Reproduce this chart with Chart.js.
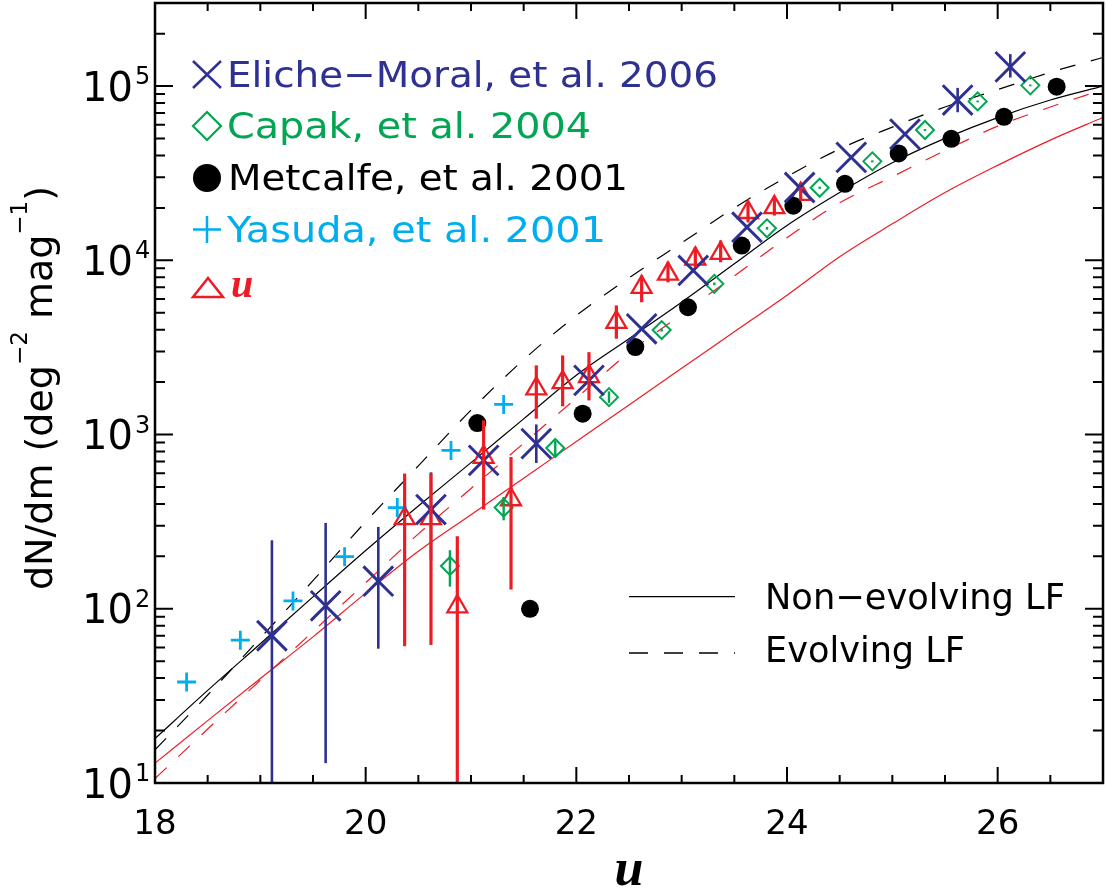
<!DOCTYPE html>
<html>
<head>
<meta charset="utf-8">
<script src="https://cdn.jsdelivr.net/npm/chart.js@4.4.1/dist/chart.umd.min.js"></script>
<style>
  html, body { margin: 0; padding: 0; background: #fff; }
  #caixa { width: 1106px; height: 892px; position: relative; }
</style>
</head>
<body>
<div id="caixa"><canvas id="grafico"></canvas></div>
<script>
// Eliche-Moral et al. 2006 (u, dN/dm e barras de erro)
const elicheU = [19.11, 19.62, 20.12, 20.62, 21.12, 21.62, 22.12, 22.62, 23.11, 23.62, 24.12, 24.61, 25.12, 25.62, 26.12];
const elicheN = [70, 104, 144, 371, 711, 887, 2046, 4046, 8750, 15500, 26200, 39000, 53000, 83200, 129000];
const elicheLo = [1, 13, 59, 190, null, 687, null, null, null, null, null, null, null, 70800, 112000];
const elicheHi = [247, 311, 295, 607, null, 1143, null, null, null, null, null, null, null, 97700, 152700];

// Capak et al. 2004
const capakU = [20.80, 21.31, 21.80, 22.31, 22.81, 23.31, 23.81, 24.31, 24.81, 25.31, 25.81, 26.31];
const capakN = [176, 381, 837, 1640, 3980, 7330, 15270, 26100, 37000, 56000, 81700, 101000];
const capakLo = [134, 322, 760, 1520, 3900, 7200, 15000, 25700, 36500, 55300, 80700, 99800];
const capakHi = [217, 438, 920, 1770, 4060, 7460, 15550, 26500, 37500, 56700, 82700, 102200];

// Metcalfe et al. 2001
const metcalfeU = [21.06, 21.56, 22.06, 22.56, 23.06, 23.57, 24.06, 24.55, 25.06, 25.56, 26.06, 26.56];
const metcalfeN = [1164, 100, 1318, 3180, 5380, 12160, 20600, 27500, 41100, 49800, 66700, 99300];

// Yasuda et al. 2001
const yasudaU = [18.30, 18.81, 19.31, 19.80, 20.30, 20.81, 21.31];
const yasudaN = [38, 66, 111, 199, 381, 811, 1490];

// contagens na banda u (triângulos)
const contagemU = [20.37, 20.62, 20.87, 21.12, 21.38, 21.62, 21.87, 22.12, 22.38, 22.62, 22.87, 23.13, 23.37, 23.63, 23.88, 24.13];
const contagemN = [330, 330, 103, 743, 424, 1833, 1995, 2157, 4415, 7010, 8370, 10190, 10990, 18880, 20150, 24000];
const contagemLo = [61, 62, 1, 371, 129, 1233, 1452, 1570, 3550, 5750, 7480, 9120, 9750, 16500, 18070, 22000];
const contagemHi = [597, 599, 261, 1206, 743, 2495, 2845, 2972, 5510, 8190, 9750, 11900, 13000, 21500, 22900, 26200];

// curvas dos modelos
const modeloU = [18, 18.5, 19, 19.5, 20, 20.5, 21, 21.5, 22, 22.5, 23, 23.5, 24, 24.5, 25, 25.5, 26, 26.5, 27];
const semEvolucao = [18, 34, 63, 117, 216, 389, 690, 1230, 2190, 3550, 5750, 9550, 15850, 24500, 36300, 50100, 66000, 83200, 100000];
const comEvolucao = [15.5, 32, 68, 145, 316, 661, 1380, 2690, 4820, 7940, 12600, 20000, 30200, 43600, 58200, 75900, 95500, 120000, 146000];
const semEvolucaoVermelho = [13, 22.8, 39.8, 69, 123, 214, 347, 562, 912, 1480, 2400, 3890, 6310, 10500, 16200, 24500, 35100, 49000, 66100];
const comEvolucaoVermelho = [10.6, 20.4, 38.9, 74, 141, 269, 490, 891, 1620, 2950, 4900, 8130, 13500, 21400, 30200, 42700, 58900, 75900, 95500];

// marcas dos eixos
const ticksX = [18, 20, 22, 24, 26];
const expoentesY = [1, 2, 3, 4, 5];

const AZUL = '#2e3192', VERDE = '#00a651', CIANO = '#00aeef', VERMELHO = '#ed1c24';
const SANS = '"DejaVu Sans", sans-serif';
const SERIF = '"Liberation Serif", "DejaVu Serif", serif';

function pontos(us, vs) {
    return us.map((u, i) => ({ x: u, y: vs[i] }));
}

// texto esticado até a largura vista na figura
function textoAjustado(ctx, txt, x, yBase, largura) {
    const w = ctx.measureText(txt).width;
    ctx.save();
    ctx.translate(x, yBase);
    ctx.scale(largura / w, 1);
    ctx.fillText(txt, 0, 0);
    ctx.restore();
}

// zera os recuos automáticos das escalas
function semRecuo(s) {
    s.paddingTop = 0; s.paddingBottom = 0; s.paddingLeft = 0; s.paddingRight = 0;
}

// barras de erro verticais
const barrasErro = {
    id: 'barrasErro',
    afterDatasetsDraw(chart) {
        const { ctx, chartArea: a, scales: { x, y } } = chart;
        ctx.save();
        ctx.beginPath();
        ctx.rect(a.left, a.top, a.right - a.left, a.bottom - a.top);
        ctx.clip();
        chart.data.datasets.forEach(ds => {
            if (!ds.errLo) return;
            ctx.strokeStyle = ds.borderColor;
            ctx.lineWidth = ds.errWidth;
            ds.data.forEach((p, i) => {
                const lo = ds.errLo[i], hi = ds.errHi[i];
                if (lo == null || hi == null) return;
                const px = x.getPixelForValue(p.x);
                ctx.beginPath();
                ctx.moveTo(px, y.getPixelForValue(lo));
                ctx.lineTo(px, y.getPixelForValue(hi));
                ctx.stroke();
            });
        });
        ctx.restore();
    }
};

// moldura, marcas, rótulos do eixo y, títulos e legendas
const moldura = {
    id: 'moldura',
    afterDraw(chart) {
        const { ctx, chartArea: a, scales: { x, y } } = chart;
        ctx.save();
        ctx.strokeStyle = '#000';
        ctx.lineWidth = 2.5;
        ctx.strokeRect(a.left, a.top, a.right - a.left, a.bottom - a.top);

        // marcas em x (baixo e cima)
        ctx.lineWidth = 2;
        for (let k = 1; k < 18; k++) {
            const v = 18 + k * 0.5;
            const px = x.getPixelForValue(v);
            const len = (k % 4 === 0) ? 16 : 8;
            ctx.beginPath();
            ctx.moveTo(px, a.bottom); ctx.lineTo(px, a.bottom - len);
            ctx.moveTo(px, a.top); ctx.lineTo(px, a.top + len);
            ctx.stroke();
        }
        // marcas em y (esquerda e direita)
        for (let d = 1; d <= 5; d++) {
            for (let m = 1; m <= 9; m++) {
                const v = m * Math.pow(10, d);
                if (v <= 10 || v >= 300000) continue;
                const py = y.getPixelForValue(v);
                const len = (m === 1) ? 18 : 10;
                ctx.beginPath();
                ctx.moveTo(a.left, py); ctx.lineTo(a.left + len, py);
                ctx.moveTo(a.right, py); ctx.lineTo(a.right - len, py);
                ctx.stroke();
            }
        }

        // rótulos 10^n
        ctx.fillStyle = '#000';
        expoentesY.forEach(n => {
            const py = y.getPixelForValue(Math.pow(10, n));
            ctx.font = '40px ' + SANS;
            ctx.textAlign = 'right';
            ctx.textBaseline = 'alphabetic';
            ctx.fillText('10', 133, py + 14.5);
            ctx.font = '24px ' + SANS;
            ctx.textAlign = 'left';
            ctx.fillText(String(n), 135, py - 2);
        });

        // título do eixo x
        ctx.font = 'italic bold 52px ' + SERIF;
        ctx.textAlign = 'center';
        ctx.fillText('u', (a.left + a.right) / 2, 885);

        // título do eixo y (rodado)
        ctx.save();
        ctx.translate(52, 388);
        ctx.rotate(-Math.PI / 2);
        const partes = [
            ['dN/dm (deg', 38, 0], ['\u22122', 23, -25], [' mag', 38, 0], ['\u22121', 23, -25], [')', 38, 0]
        ];
        let total = 0;
        partes.forEach(p => { ctx.font = p[1] + 'px ' + SANS; total += ctx.measureText(p[0]).width; });
        let cx = -total / 2;
        ctx.textAlign = 'left';
        partes.forEach(p => {
            ctx.font = p[1] + 'px ' + SANS;
            ctx.fillText(p[0], cx, p[2]);
            cx += ctx.measureText(p[0]).width;
        });
        ctx.restore();

        // legenda dos dados
        ctx.textAlign = 'left';
        ctx.font = '36px ' + SANS;
        ctx.lineCap = 'butt';
        // X
        ctx.strokeStyle = AZUL; ctx.lineWidth = 2.5;
        ctx.beginPath();
        ctx.moveTo(193, 61); ctx.lineTo(221, 88); ctx.moveTo(221, 61); ctx.lineTo(193, 88);
        ctx.stroke();
        ctx.fillStyle = AZUL;
        textoAjustado(ctx, 'Eliche\u2212Moral, et al. 2006', 227, 87.3, 491);
        // losango
        ctx.strokeStyle = VERDE; ctx.lineWidth = 2.2;
        ctx.beginPath();
        ctx.moveTo(193, 126); ctx.lineTo(207, 112); ctx.lineTo(221, 126); ctx.lineTo(207, 140); ctx.closePath();
        ctx.stroke();
        ctx.fillStyle = VERDE;
        textoAjustado(ctx, 'Capak, et al. 2004', 227, 138.3, 364);
        // círculo
        ctx.fillStyle = '#000';
        ctx.beginPath(); ctx.arc(207, 178, 14, 0, Math.PI * 2); ctx.fill();
        textoAjustado(ctx, 'Metcalfe, et al. 2001', 228, 190, 400);
        // cruz
        ctx.strokeStyle = CIANO; ctx.lineWidth = 2.5;
        ctx.beginPath();
        ctx.moveTo(193, 229.6); ctx.lineTo(221, 229.6); ctx.moveTo(207, 216); ctx.lineTo(207, 243);
        ctx.stroke();
        ctx.fillStyle = CIANO;
        textoAjustado(ctx, 'Yasuda, et al. 2001', 227, 241.7, 379);
        // triângulo
        ctx.strokeStyle = VERMELHO; ctx.lineWidth = 2.5;
        ctx.beginPath();
        ctx.moveTo(193, 297); ctx.lineTo(208, 278); ctx.lineTo(223, 297); ctx.closePath();
        ctx.stroke();
        ctx.fillStyle = VERMELHO;
        ctx.font = 'italic bold 40px ' + SERIF;
        ctx.fillText('u', 231, 297);

        // legenda dos modelos
        ctx.strokeStyle = '#000'; ctx.lineWidth = 1.3;
        ctx.beginPath(); ctx.moveTo(629, 596.6); ctx.lineTo(735, 596.6); ctx.stroke();
        ctx.setLineDash([19, 16]);
        ctx.beginPath(); ctx.moveTo(629, 653); ctx.lineTo(735, 653); ctx.stroke();
        ctx.setLineDash([]);
        ctx.fillStyle = '#000';
        ctx.font = '36px ' + SANS;
        textoAjustado(ctx, 'Non\u2212evolving LF', 765, 609.3, 300);
        textoAjustado(ctx, 'Evolving LF', 765, 661.7, 200);
        ctx.restore();
    }
};

const curva = (vs, cor, tracejado) => ({
    data: pontos(modeloU, vs),
    showLine: true,
    borderColor: cor,
    borderWidth: 1.2,
    borderDash: tracejado ? [16, 16] : [],
    pointRadius: 0,
    cubicInterpolationMode: 'monotone',
    fill: false
});

const ctx = document.getElementById('grafico').getContext('2d');
const grafico = new Chart(ctx, {
    type: 'scatter',
    data: {
        datasets: [
            {
                label: 'Eliche-Moral, et al. 2006',
                data: pontos(elicheU, elicheN),
                pointStyle: 'crossRot', pointRadius: 21, borderWidth: 3,
                borderColor: AZUL, backgroundColor: AZUL,
                errLo: elicheLo, errHi: elicheHi, errWidth: 2.6
            },
            {
                label: 'Capak, et al. 2004',
                data: pontos(capakU, capakN),
                pointStyle: 'rectRot', pointRadius: 9, borderWidth: 2,
                borderColor: VERDE, backgroundColor: 'rgba(0,0,0,0)',
                errLo: capakLo, errHi: capakHi, errWidth: 2.4
            },
            {
                label: 'Metcalfe, et al. 2001',
                data: pontos(metcalfeU, metcalfeN),
                pointStyle: 'circle', pointRadius: 9, borderWidth: 0,
                borderColor: '#000', backgroundColor: '#000'
            },
            {
                label: 'Yasuda, et al. 2001',
                data: pontos(yasudaU, yasudaN),
                pointStyle: 'cross', pointRadius: 9.5, borderWidth: 2.8,
                borderColor: CIANO, backgroundColor: CIANO
            },
            {
                label: 'u',
                data: pontos(contagemU, contagemN),
                pointStyle: 'triangle', pointRadius: 11.5, borderWidth: 2.3,
                borderColor: VERMELHO, backgroundColor: 'rgba(0,0,0,0)',
                errLo: contagemLo, errHi: contagemHi, errWidth: 3.2
            },
            curva(semEvolucao, '#000', false),
            curva(comEvolucao, '#000', true),
            curva(semEvolucaoVermelho, VERMELHO, false),
            curva(comEvolucaoVermelho, VERMELHO, true)
        ]
    },
    options: {
        responsive: true,
        maintainAspectRatio: false,
        animation: false,
        devicePixelRatio: 1,
        layout: { autoPadding: false, padding: { left: 0, right: 3, top: 3, bottom: 0 } },
        plugins: { legend: { display: false }, tooltip: { enabled: false } },
        scales: {
            x: {
                type: 'linear', position: 'bottom', min: 18, max: 27,
                grid: { display: false, drawTicks: false },
                border: { display: false },
                afterBuildTicks: s => { s.ticks = ticksX.map(v => ({ value: v })); },
                afterFit: s => { s.height = 109; semRecuo(s); },
                ticks: { font: { family: SANS, size: 34 }, color: '#000', padding: 22, maxRotation: 0 }
            },
            y: {
                type: 'logarithmic', min: 10, max: 300000,
                grid: { display: false, drawTicks: false },
                border: { display: false },
                ticks: { display: false },
                afterFit: s => { s.width = 155; semRecuo(s); }
            }
        }
    },
    plugins: [barrasErro, moldura]
});
</script>
</body>
</html>
